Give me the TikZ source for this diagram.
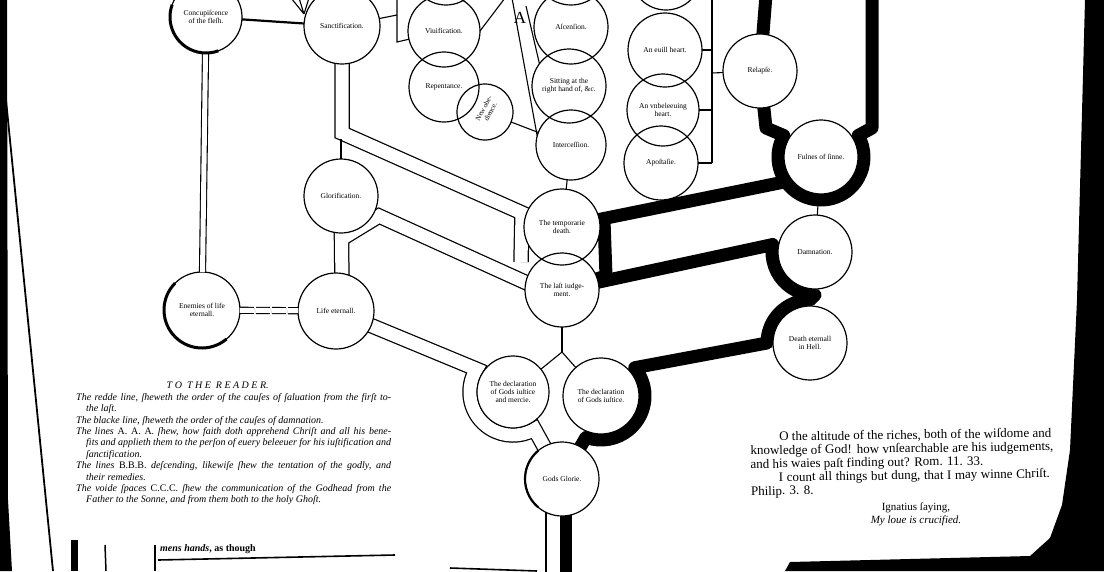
\documentclass[tikz,border=0pt]{standalone}
\usepackage{fontspec}
\setmainfont{Liberation Serif}
\usetikzlibrary{calc}
\pgfdeclarelayer{bands}
\pgfdeclarelayer{fills}
\pgfsetlayers{bands,fills,main}
\newcommand\circnode[5]{%
  \begin{pgfonlayer}{fills}\fill[white] (#2,#3) circle[radius=#4];\end{pgfonlayer}%
  \node[cnode, minimum size=#4*2pt] (#1) at (#2,#3) {#5};}
\tikzset{
  cnode/.style={circle, draw, line width=1.2pt, inner sep=0pt, outer sep=0pt, align=center, font=\fontsize{7.5}{8.2}\selectfont},
  conn/.style={line width=1.1pt},
  hollowout/.style={line width=15.5pt, line join=miter},
  hollowin/.style={white, line width=13pt, line join=miter},
  blackband/.style={line width=13pt, line join=round},
}
\begin{document}
\begin{tikzpicture}[x=1pt,y=-1pt]
\useasboundingbox (0,0) rectangle (1104,571);
% ---------- circles ----------
\circnode{C1}{206}{17}{36}{Concupiſcence\\of the fleſh.}
\circnode{S}{342}{26}{38}{Sanctification.}
\circnode{T1}{446}{-30}{35}{}
\circnode{Viv}{444}{31}{36}{Viuification.}
\circnode{Rep}{444}{87}{35}{Repentance.}
\circnode{NO}{485}{112}{28}{}
\node[rotate=62, align=center, font=\fontsize{7}{7.6}\selectfont] (NOt) at (487,110) {New obe-\\dience.};
\circnode{T2}{571}{-32}{37}{}
\circnode{Asc}{571}{27}{37}{Aſcenſion.}
\circnode{Sit}{569}{86}{37}{Sitting at the\\right hand of, \&c.}
\circnode{Int}{571}{145}{35}{Interceſſion.}
\circnode{T3}{666}{-25}{35}{}
\circnode{Ev}{665}{50}{37}{An euill heart.}
\circnode{Unb}{663}{110}{36}{An vnbeleeuing\\heart.}
\circnode{Apo}{661}{163}{37}{Apoſtaſie.}
\circnode{Rel}{760}{71}{37}{Relapſe.}
\circnode{Ful}{821}{157}{37}{Fulnes of ſinne.}
\circnode{G}{341}{196}{37}{Glorification.}
\circnode{D}{562}{227}{38}{The temporarie\\death.}
\circnode{J}{562}{290}{37}{The laſt iudge-\\ment.}
\circnode{Dm}{815}{252}{37}{Damnation.}
\circnode{H}{810}{343}{37}{Death eternall\\in Hell.}
\circnode{E}{202}{310}{38}{Enemies of life\\eternall.}
\circnode{L}{336}{311}{38}{Life eternall.}
\circnode{M}{513}{392}{36}{The declaration\\of Gods iuſtice\\and mercie.}
\circnode{Jt}{601}{396}{38}{The declaration\\of Gods iuſtice.}
\circnode{GG}{562}{479}{37}{Gods Glorie.}
\node[font=\fontsize{17}{17}\selectfont, inner sep=0pt] (Alab) at (520,18) {A};
% ---------- coordinates ----------
\coordinate (h1a) at (342,133);
\coordinate (h1b) at (522,213);
\coordinate (h1c) at (521,262);
\coordinate (h2b) at (342,285);
\coordinate (h3a) at (560,298);
\coordinate (h3b) at (379,216);
\coordinate (h3c) at (343,238);
\coordinate (h4a) at ($(M.center)+(212:43)$);
\coordinate (h5a) at (553,500);
\coordinate (h5b) at (553,576);
\coordinate (k1) at (766,-5);
\coordinate (k2a) at (766,128);
\coordinate (k2b) at ($(Ful.center)+(210:43)$);
\coordinate (k3a) at (872,128);
\coordinate (k3b) at (872,-5);
\coordinate (k4) at ($(Ful.center)+(145:43)$);
\coordinate (k5a) at (604,220);
\coordinate (k5b) at (606,276);
\coordinate (k6) at ($(Dm.center)+(190:43)$);
\coordinate (k8) at ($(H.center)+(270:43)$);
\coordinate (k10) at ($(Jt.center)+(-40:44)$);
\coordinate (k12a) at (566,500);
\coordinate (k12b) at (566,576);
\coordinate (f0) at (304,14);
\coordinate (f1) at (291,-2);
\coordinate (f2) at (299,-2);
\coordinate (f3) at (309,-2);
\coordinate (br0) at (397,-2);
\coordinate (br1) at (397,15);
\coordinate (br2) at (397,42);
\coordinate (vu) at (505,-2);
\coordinate (a1) at (512,-2);
\coordinate (a2) at (526,6);
\coordinate (gt) at (341,139);
\coordinate (vs) at (562,352);
\coordinate (t0) at (712,-2);
\coordinate (t1) at (712,50);
\coordinate (t2) at (712,110);
\coordinate (t3) at (712,163);
\coordinate (t4) at (712,73);
% ---------- bands (behind circles) ----------
\begin{pgfonlayer}{bands}
\fill[white] (0,0) rectangle (1104,571);
\draw[hollowout] (S.center) -- (h1a) -- (h1b) -- (h1c);
\draw[hollowout] (G.center) -- (h2b);
\draw[hollowout] (h3a) -- (h3b) -- (h3c);
\draw[hollowout] (L.center) -- (h4a) arc[start angle=212,end angle=60,radius=43] -- (GG.center);
\draw[hollowout] (h5a) -- (h5b);
\draw[hollowin] (S.center) -- (h1a) -- (h1b) -- (h1c);
\draw[hollowin] (G.center) -- (h2b);
\draw[hollowin] (h3a) -- (h3b) -- (h3c);
\draw[hollowin] (L.center) -- (h4a) arc[start angle=212,end angle=60,radius=43] -- (GG.center);
\draw[hollowin] (h5a) -- (h5b);
\draw[blackband] (k1) -- (Rel.center);
\draw[blackband] (Rel.center) -- (k2a) -- (k2b) arc[start angle=210,end angle=-30,radius=43] -- (k3a) -- (k3b);
\draw[blackband] (k4) -- (D.center);
\draw[blackband] (D.center) -- (k5a) -- (k5b) -- (J.center);
\draw[blackband] (J.center) -- (k6) arc[start angle=190,end angle=90,radius=43] -- (k8) arc[start angle=270,end angle=180,radius=43] -- (k10) arc[start angle=-40,end angle=110,radius=44] -- (GG.center);
\draw[line width=12pt] (k12a) -- (k12b);
\end{pgfonlayer}
% ---------- thin connectors ----------
\draw[line width=2.2pt] (C1) -- (S);
\draw[conn, double, double distance=5pt] (C1) -- (E);
\draw[conn, double, double distance=5pt, dash pattern=on 14pt off 2pt] (E) -- (L);
\draw[conn] (f0) -- (f1) (f0) -- (f2) (f0) -- (f3);
\draw[conn] (S) -- (br1);
\draw[conn] (br0) -- (br2) -- (Viv);
\draw[conn] (Viv.east) -- (vu);
\draw[conn] (a1) -- (Int.165);
\draw[conn] (a2) -- (Sit.143);
\draw[conn] (NO) -- (Int);
\draw[conn] (Int) -- (D);
\draw[conn] (G) -- (gt);
\draw[conn] (Ful) -- (Dm);
\draw[conn] (J) -- (vs);
\draw[conn] (vs) -- (M);
\draw[conn] (vs) -- (Jt);
\draw[conn] (t0) -- (t3);
\draw[conn] (Ev) -- (t1);
\draw[conn] (Unb) -- (t2);
\draw[conn] (Apo) -- (t3);
\draw[conn] (t4) -- (Rel);
% heavier outline parts
\draw[line width=3pt] ($(E.center)+(50:38)$) arc[start angle=50,end angle=225,radius=38];
\draw[line width=3pt] ($(C1.center)+(70:36)$) arc[start angle=70,end angle=200,radius=36];
\draw[line width=2.2pt] ($(GG.center)+(130:37)$) arc[start angle=130,end angle=230,radius=37];
% ---------- page edges ----------
\fill (0,0) -- (7,0) -- (8,500) -- (12,571) -- (0,571) -- cycle;
\draw[line width=1.8pt] (6,100) -- (53,571);
\fill (71,540) rectangle (78,571);
\draw[line width=1.5pt] (105,545) -- (106,571);
\draw[line width=1.5pt] (155,545) -- (155,571);
\draw[line width=1.6pt] (158,560) -- (395,555);
\draw[line width=1.6pt] (450,568) -- (537,571);
\fill (1085,0) -- (1104,0) -- (1104,571) -- (785,571) -- (790,562) -- (1030,556) -- (1050,538) -- (1062,505) -- (1070,450) -- (1077,300) -- cycle;
% ---------- texts ----------
\node[anchor=north west, align=left, inner sep=0pt, font=\itshape\fontsize{10}{11.4}\selectfont] (rd) at (76,382) {%
\makebox[315pt][c]{\hspace*{-32pt}T O \ T H E \ R E A D E R.}\\
\makebox[315pt][s]{The redde line, ſheweth the order of the cauſes of ſaluation from the firſt to-}\\
\hspace*{10pt}the laſt.\\
The blacke line, ſheweth the order of the cauſes of damnation.\\
\makebox[315pt][s]{The lines \textup{A. A. A.} ſhew, how faith doth apprehend Chriſt and all his bene-}\\
\hspace*{10pt}\makebox[305pt][s]{fits and applieth them to the perſon of euery beleeuer for his iuſtification and}\\
\hspace*{10pt}ſanctification.\\
\makebox[315pt][s]{The lines \textup{B.B.B.} deſcending, likewiſe ſhew the tentation of the godly, and}\\
\hspace*{10pt}their remedies.\\
\makebox[315pt][s]{The voide ſpaces \textup{C.C.C.} ſhew the communication of the Godhead from the}\\
\hspace*{10pt}Father to the Sonne, and from them both to the holy Ghoſt.};
\node[anchor=north west, rotate=0.8, align=left, inner sep=0pt, font=\fontsize{13}{13.5}\selectfont] (rom) at (750,432) {%
\hspace*{29pt}\makebox[272pt][s]{O the altitude of the riches, both of the wiſdome and}\\
\makebox[303pt][s]{knowledge of God! how vnſearchable are his iudgements,}\\
and his waies paſt finding out? Rom. 11. 33.\\
\hspace*{28pt}\makebox[271pt][s]{I count all things but dung, that I may winne Chriſt.}\\
Philip. 3. 8.};
\node[align=center, font=\fontsize{11}{13}\selectfont] (ign) at (916,514) {Ignatius ſaying,\\\textit{My loue is crucified.}};
\node[anchor=west, inner sep=0pt, font=\bfseries\fontsize{10}{11}\selectfont] (mh) at (160,549) {\textit{mens hands}, as though};
\end{tikzpicture}
\end{document}
